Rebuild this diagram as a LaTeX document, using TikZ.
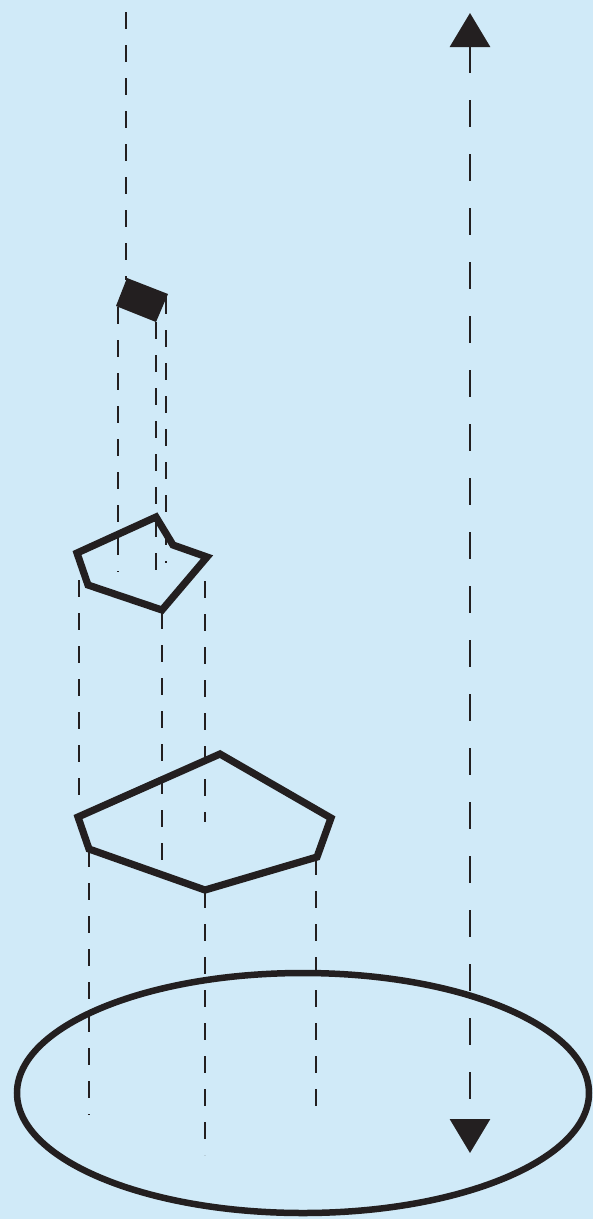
\documentclass[tikz,border=0pt]{standalone}
\usetikzlibrary{arrows.meta}

\definecolor{skyback}{RGB}{208,234,248}
\definecolor{inkblack}{RGB}{35,31,32}

\tikzset{
  outline/.style={draw=inkblack, line width=7.2pt, line join=miter},
  guide/.style={draw=inkblack, line width=2.9pt, dash pattern=on 17pt off 16pt},
  axisline/.style={draw=inkblack, line width=2.9pt, dash pattern=on 27pt off 27pt,
    {Triangle[width=40pt,length=34pt]}-{Triangle[width=40pt,length=34pt]}}
}

\begin{document}
\begin{tikzpicture}[x=1pt, y=-1pt]
    % Background
    \fill[skyback] (0,0) rectangle (593,1219);
    \useasboundingbox (0,0) rectangle (593,1219);

    % Block on top
    \coordinate (b1) at (127,278);
    \coordinate (b2) at (168,294);
    \coordinate (b3) at (156,322);
    \coordinate (b4) at (116,306);

    % Small pentagon
    \coordinate (s1) at (156,517);
    \coordinate (s2) at (173,545);
    \coordinate (s3) at (207,557);
    \coordinate (s4) at (162,610);
    \coordinate (s5) at (88,585);
    \coordinate (s6) at (77,553);

    % Large pentagon
    \coordinate (l1) at (220,754);
    \coordinate (l2) at (331,818);
    \coordinate (l3) at (317,857);
    \coordinate (l4) at (205,890);
    \coordinate (l5) at (89,849);
    \coordinate (l6) at (78,817);

    % Ellipse and axis
    \coordinate (base) at (303,1093);
    \coordinate (top) at (470,13);
    \coordinate (bottom) at (470,1153);

    % Guides
    \foreach \x/\ya/\yb in {126/12/280, 118/307/572, 156/322/583, 166/297/563,
                            79/580/798, 162/612/872, 205/581/822,
                            89/850/1115, 205/891/1155, 316/858/1115}
      \draw[guide] (\x,\ya) -- (\x,\yb);

    \fill[inkblack] (b1) -- (b2) -- (b3) -- (b4) -- cycle;
    \draw[outline] (s1) -- (s2) -- (s3) -- (s4) -- (s5) -- (s6) -- cycle;
    \draw[outline] (l1) -- (l2) -- (l3) -- (l4) -- (l5) -- (l6) -- cycle;
    \draw[outline, line width=6.5pt] (base) ellipse [x radius=286, y radius=120];

    \draw[axisline] (top) -- (bottom);

  \end{tikzpicture}
\end{document}
